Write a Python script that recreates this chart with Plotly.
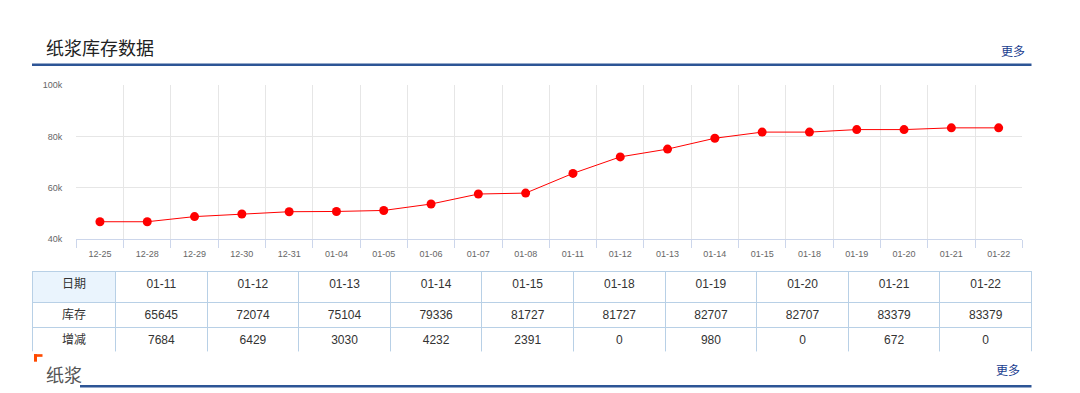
import plotly.graph_objects as go

W, H = 1080, 393

# ---- data ----
dates = ["12-25", "12-28", "12-29", "12-30", "12-31", "01-04", "01-05", "01-06",
         "01-07", "01-08", "01-11", "01-12", "01-13", "01-14", "01-15", "01-18",
         "01-19", "01-20", "01-21", "01-22"]
inventory = [46800, 46800, 48800, 49800, 50700, 50800, 51200, 53700,
             57600, 57961, 65645, 72074, 75104, 79336, 81727, 81727,
             82707, 82707, 83379, 83379]
table_dates = ["01-11", "01-12", "01-13", "01-14", "01-15", "01-18", "01-19",
               "01-20", "01-21", "01-22"]
table_stock = [65645, 72074, 75104, 79336, 81727, 81727, 82707, 82707, 83379, 83379]
table_change = [7684, 6429, 3030, 4232, 2391, 0, 980, 0, 672, 0]
y_ticks = [40000, 60000, 80000, 100000]
y_tick_labels = ["40k", "60k", "80k", "100k"]

FONT = "Liberation Sans, Arial, Noto Sans CJK SC, sans-serif"
CJK = "Noto Sans CJK SC, Liberation Sans, sans-serif"
TFONT = "Liberation Sans, Arial, Noto Sans CJK SC, sans-serif"


def px(x):
    return x / W


def py(y):
    return 1 - y / H


fig = go.Figure()

fig.add_trace(go.Scatter(
    x=dates, y=inventory, mode="lines+markers",
    line=dict(color="#ff0000", width=1),
    marker=dict(color="#ff0000", size=9),
    hoverinfo="x+y", showlegend=False,
))

fig.add_trace(go.Table(
    domain=dict(x=[px(32.5), px(1031.5)], y=[py(356), py(273.3)]),
    columnwidth=[83] + [91.6] * 10,
    header=dict(
        values=["日期"] + table_dates,
        fill=dict(color=["#eaf4fd"] + ["#ffffff"] * 10),
        line=dict(color="#b8d0e6", width=1),
        font=dict(family=TFONT, size=12, color="#333333"),
        align="center", height=31,
    ),
    cells=dict(
        values=[["库存", "增减"]] + [[s, c] for s, c in zip(table_stock, table_change)],
        fill=dict(color="#ffffff"),
        line=dict(color="#b8d0e6", width=1),
        font=dict(family=TFONT, size=12, color="#333333"),
        align="center", height=25,
    ),
))

fig.update_layout(
    width=W, height=H,
    margin=dict(l=0, r=0, t=0, b=0),
    paper_bgcolor="#ffffff", plot_bgcolor="#ffffff",
    font=dict(family=FONT, size=9, color="#666666"),
    xaxis=dict(
        domain=[px(76.3), px(1022.3)],
        type="category", tickson="boundaries",
        showgrid=True, gridcolor="#e6e6e6", gridwidth=1,
        showline=True, linecolor="#ccd6eb", linewidth=1,
        ticks="outside", ticklen=8, tickcolor="#ccd6eb",
        ticklabelstandoff=6,
        tickfont=dict(size=9, color="#666666"),
        range=[-0.5, len(dates) - 0.5],
        zeroline=False, fixedrange=True,
    ),
    yaxis=dict(
        domain=[py(240.3), py(82.3)],
        range=[40000, 100000],
        tickvals=y_ticks, ticktext=y_tick_labels,
        showgrid=True, gridcolor="#e6e6e6", gridwidth=1,
        showline=False, zeroline=False, ticks="",
        ticklabelstandoff=13,
        tickfont=dict(size=9, color="#666666"),
        fixedrange=True,
    ),
    shapes=[
        dict(type="line", xref="paper", yref="paper", x0=px(32), x1=px(1031.5),
             y0=py(61.2), y1=py(61.2), line=dict(color="#2d5596", width=2.5)),
        dict(type="line", xref="paper", yref="paper", x0=px(80), x1=px(1031.5),
             y0=py(391.2), y1=py(391.2), line=dict(color="#2d5596", width=2.5)),
        dict(type="rect", xref="paper", yref="paper", x0=px(34), x1=px(42.5),
             y0=py(361), y1=py(358.3), fillcolor="#ff4a00", line=dict(width=0)),
        dict(type="rect", xref="paper", yref="paper", x0=px(34), x1=px(37),
             y0=py(366), y1=py(358.3), fillcolor="#ff4a00", line=dict(width=0)),
    ],
    annotations=[
        dict(text="纸浆库存数据", xref="paper", yref="paper", x=px(44), y=py(43.5),
             xanchor="left", yanchor="middle", showarrow=False,
             font=dict(family=CJK, size=18, color="#222222")),
        dict(text="更多", xref="paper", yref="paper", x=px(1027), y=py(46.7),
             xanchor="right", yanchor="middle", showarrow=False,
             font=dict(family=CJK, size=12, color="#1a3d8f")),
        dict(text="纸浆", xref="paper", yref="paper", x=px(43.5), y=py(378.3),
             xanchor="left", yanchor="middle", showarrow=False,
             font=dict(family=CJK, size=18, color="#555555")),
        dict(text="更多", xref="paper", yref="paper", x=px(1021.5), y=py(374),
             xanchor="right", yanchor="middle", showarrow=False,
             font=dict(family=CJK, size=12, color="#1a3d8f")),
    ],
)

fig.write_html(
    "out.html",
    config={"displayModeBar": False},
    post_script="document.body.style.margin='0';document.body.style.overflow='hidden';",
)
